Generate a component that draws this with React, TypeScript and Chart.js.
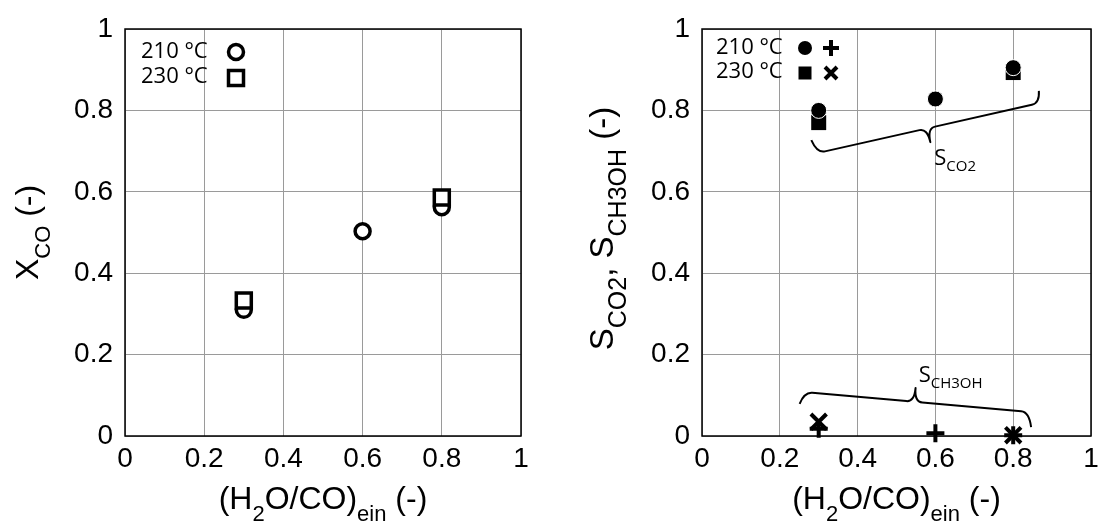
import React, { useEffect, useRef } from 'react';
import { Chart, registerables } from 'chart.js';
Chart.register(...registerables);

// ---------- data ----------
const xTickValues = [0, 0.2, 0.4, 0.6, 0.8, 1];
const tickLabels = ['0', '0.2', '0.4', '0.6', '0.8', '1'];
const legendLabels = ['210 °C', '230 °C'];

// Left panel: X_CO
const xco210X = [0.3, 0.6, 0.8];
const xco210Y = [0.31, 0.503, 0.562];
const xco230X = [0.3, 0.8];
const xco230Y = [0.333, 0.586];

// Right panel: S_CO2
const sco2_210X = [0.3, 0.6, 0.8];
const sco2_210Y = [0.8, 0.828, 0.905];
const sco2_230X = [0.3, 0.8];
const sco2_230Y = [0.77, 0.893];
// Right panel: S_CH3OH
const sch_210X = [0.3, 0.6, 0.8];
const sch_210Y = [0.018, 0.007, 0.002];
const sch_230X = [0.3, 0.8];
const sch_230Y = [0.035, 0.002];

// Braces (data coords): tipL, cornerL, cusp, cornerR, tipR
const braceCO2X = [0.281, 0.296, 0.587, 0.868, 0.866];
const braceCO2Y = [0.727, 0.695, 0.722, 0.818, 0.848];
const braceCH3X = [0.251, 0.263, 0.549, 0.841, 0.846];
const braceCH3Y = [0.079, 0.108, 0.118, 0.059, 0.022];
const labelCO2Pos = [0.597, 0.685];
const labelCH3Pos = [0.557, 0.152];

// ---------- styling ----------
const AX_FONT = '"Liberation Sans", Arial, sans-serif';
const LG_FONT = '"Open Sans", sans-serif';
const TICK_SIZE = 28;
const TITLE_M = 32;
const TITLE_S = 22;
const TITLE_DROP = 12;
const CW = 553;
const CH = 524;

const zip = (xs: number[], ys: number[]) => xs.map((x, i) => ({ x, y: ys[i] }));

type Part = [string, boolean];

function drawRich(ctx: CanvasRenderingContext2D, parts: Part[], cx: number, cy: number, rot: number, M: number, s: number, drop: number, family: string, align: 'center' | 'left' = 'center') {
  ctx.save();
  ctx.translate(cx, cy);
  ctx.rotate(rot);
  ctx.fillStyle = '#000';
  ctx.textBaseline = 'alphabetic';
  ctx.textAlign = 'left';
  let total = 0;
  const widths = parts.map(([t, sub]) => {
    ctx.font = `${sub ? s : M}px ${family}`;
    const w = ctx.measureText(t).width;
    total += w;
    return w;
  });
  let x = align === 'center' ? -total / 2 : 0;
  const base = M * 0.36;
  parts.forEach(([t, sub], i) => {
    ctx.font = `${sub ? s : M}px ${family}`;
    ctx.fillText(t, x, sub ? base + drop : base);
    x += widths[i];
  });
  ctx.restore();
}

function drawMarker(ctx: CanvasRenderingContext2D, kind: string, x: number, y: number) {
  ctx.save();
  ctx.strokeStyle = '#000';
  ctx.fillStyle = '#000';
  if (kind === 'openCircle') {
    ctx.lineWidth = 3.5;
    ctx.fillStyle = '#fff';
    ctx.beginPath();
    ctx.arc(x, y, 7.5, 0, Math.PI * 2);
    ctx.fill();
    ctx.stroke();
  } else if (kind === 'openSquare') {
    ctx.lineWidth = 3.5;
    ctx.fillStyle = '#fff';
    ctx.fillRect(x - 7.5, y - 7.5, 15, 15);
    ctx.strokeRect(x - 7.5, y - 7.5, 15, 15);
  } else if (kind === 'dot') {
    ctx.beginPath();
    ctx.arc(x, y, 7, 0, Math.PI * 2);
    ctx.fill();
  } else if (kind === 'square') {
    ctx.fillRect(x - 6.5, y - 6.5, 13, 13);
  } else if (kind === 'plus') {
    ctx.lineWidth = 4;
    ctx.beginPath();
    ctx.moveTo(x - 8, y); ctx.lineTo(x + 8, y);
    ctx.moveTo(x, y - 8); ctx.lineTo(x, y + 8);
    ctx.stroke();
  } else if (kind === 'cross') {
    ctx.lineWidth = 4;
    ctx.beginPath();
    ctx.moveTo(x - 6, y - 6); ctx.lineTo(x + 6, y + 6);
    ctx.moveTo(x + 6, y - 6); ctx.lineTo(x - 6, y + 6);
    ctx.stroke();
  }
  ctx.restore();
}

function drawBrace(ctx: CanvasRenderingContext2D, pts: number[][]) {
  const [tipL, cL, cusp, cR, tipR] = pts;
  const dx = cR[0] - cL[0], dy = cR[1] - cL[1];
  const len = Math.hypot(dx, dy);
  const ux = dx / len, uy = dy / len;
  const t = (cusp[0] - cL[0]) * ux + (cusp[1] - cL[1]) * uy;
  const mid = [cL[0] + ux * t, cL[1] + uy * t];
  const r = 8;
  ctx.save();
  ctx.strokeStyle = '#000';
  ctx.lineWidth = 2;
  ctx.lineJoin = 'round';
  ctx.beginPath();
  ctx.moveTo(tipL[0], tipL[1]);
  ctx.quadraticCurveTo(cL[0], cL[1], cL[0] + ux * r, cL[1] + uy * r);
  ctx.lineTo(mid[0] - ux * r, mid[1] - uy * r);
  ctx.quadraticCurveTo(mid[0], mid[1], cusp[0], cusp[1]);
  ctx.quadraticCurveTo(mid[0], mid[1], mid[0] + ux * r, mid[1] + uy * r);
  ctx.lineTo(cR[0] - ux * r, cR[1] - uy * r);
  ctx.quadraticCurveTo(cR[0], cR[1], tipR[0], tipR[1]);
  ctx.stroke();
  ctx.restore();
}

function makeScales(yWidth: number) {
  const common = {
    type: 'linear' as const,
    min: 0,
    max: 1,
    afterBuildTicks: (s: any) => { s.ticks = xTickValues.map(v => ({ value: v })); },
    grid: { color: '#9a9a9a', lineWidth: 1, drawTicks: false },
    border: { display: false },
  };
  const cb = (v: any) => {
    const i = xTickValues.findIndex(t => Math.abs(t - Number(v)) < 1e-6);
    return i >= 0 ? tickLabels[i] : '';
  };
  return {
    x: {
      ...common,
      ticks: { callback: cb, font: { family: AX_FONT, size: TICK_SIZE }, color: '#000', padding: 6, maxRotation: 0, autoSkip: false },
      afterFit: (s: any) => { s.height = CH - 436; },
    },
    y: {
      ...common,
      ticks: { callback: cb, font: { family: AX_FONT, size: TICK_SIZE }, color: '#000', padding: 12, autoSkip: false },
      afterFit: (s: any) => { s.width = yWidth; },
    },
  };
}

const frame = {
  id: 'frame',
  afterDraw(chart: any) {
    const { ctx, chartArea: a } = chart;
    ctx.save();
    ctx.strokeStyle = '#000';
    ctx.lineWidth = 1.5;
    ctx.strokeRect(a.left, a.top, a.right - a.left, a.bottom - a.top);
    ctx.restore();
  },
};

function leftConfig(): any {
  return {
    type: 'scatter',
    data: {
      datasets: [
        {
          label: legendLabels[1], data: zip(xco230X, xco230Y), order: 0,
          pointStyle: 'rect', pointRadius: 10.6, pointBorderWidth: 3.5,
          pointBorderColor: '#000', pointBackgroundColor: '#fff', clip: false,
        },
        {
          label: legendLabels[0], data: zip(xco210X, xco210Y), order: 1,
          pointStyle: 'circle', pointRadius: 7.5, pointBorderWidth: 3.5,
          pointBorderColor: '#000', pointBackgroundColor: '#fff', clip: false,
        },
      ],
    },
    options: {
      animation: false,
      responsive: false,
      events: [],
      layout: { padding: { top: 29, right: CW - 521, left: 0, bottom: 0 } },
      plugins: { legend: { display: false }, tooltip: { enabled: false } },
      scales: makeScales(125),
    },
    plugins: [frame, {
      id: 'deco',
      afterDraw(chart: any) {
        const { ctx, chartArea: a } = chart;
        ctx.save();
        ctx.fillStyle = '#000';
        ctx.font = `22px ${LG_FONT}`;
        ctx.textBaseline = 'middle';
        ctx.fillText(legendLabels[0], 141, 52);
        ctx.fillText(legendLabels[1], 141, 77);
        ctx.restore();
        drawMarker(ctx, 'openCircle', 236, 52);
        drawMarker(ctx, 'openSquare', 236, 78);
        const cx = (a.left + a.right) / 2;
        const cy = (a.top + a.bottom) / 2;
        drawRich(ctx, [['(H', false], ['2', true], ['O/CO)', false], ['ein', true], [' (-)', false]], cx, 497, 0, TITLE_M, TITLE_S, TITLE_DROP, AX_FONT);
        drawRich(ctx, [['X', false], ['CO', true], [' (-)', false]], 26, cy, -Math.PI / 2, TITLE_M, TITLE_S, TITLE_DROP, AX_FONT);
      },
    }],
  };
}

function rightConfig(): any {
  return {
    type: 'scatter',
    data: {
      datasets: [
        {
          label: legendLabels[0] + ' S_CO2', data: zip(sco2_210X, sco2_210Y), order: 0,
          pointStyle: 'circle', pointRadius: 8, pointBorderWidth: 1,
          pointBorderColor: '#fff', pointBackgroundColor: '#000', clip: false,
        },
        {
          label: legendLabels[1] + ' S_CO2', data: zip(sco2_230X, sco2_230Y), order: 1,
          pointStyle: 'rect', pointRadius: 10.6, pointBorderWidth: 0,
          pointBorderColor: '#000', pointBackgroundColor: '#000', clip: false,
        },
        {
          label: legendLabels[0] + ' S_CH3OH', data: zip(sch_210X, sch_210Y), order: 2,
          pointStyle: 'cross', pointRadius: 9, pointBorderWidth: 4,
          pointBorderColor: '#000', pointBackgroundColor: '#000', clip: false,
        },
        {
          label: legendLabels[1] + ' S_CH3OH', data: zip(sch_230X, sch_230Y), order: 3,
          pointStyle: 'crossRot', pointRadius: 11, pointBorderWidth: 4,
          pointBorderColor: '#000', pointBackgroundColor: '#000', clip: false,
        },
      ],
    },
    options: {
      animation: false,
      responsive: false,
      events: [],
      layout: { padding: { top: 29, right: CW - (1097 - 553), left: 0, bottom: 0 } },
      plugins: { legend: { display: false }, tooltip: { enabled: false } },
      scales: makeScales(702 - 553),
    },
    plugins: [frame, {
      id: 'deco',
      afterDraw(chart: any) {
        const { ctx, chartArea: a } = chart;
        const xs = chart.scales.x, ys = chart.scales.y;
        const px = (v: number) => xs.getPixelForValue(v);
        const py = (v: number) => ys.getPixelForValue(v);
        ctx.save();
        ctx.fillStyle = '#000';
        ctx.font = `22px ${LG_FONT}`;
        ctx.textBaseline = 'middle';
        ctx.fillText(legendLabels[0], 163, 48);
        ctx.fillText(legendLabels[1], 163, 72);
        ctx.restore();
        drawMarker(ctx, 'dot', 252, 48);
        drawMarker(ctx, 'plus', 278, 48);
        drawMarker(ctx, 'square', 252, 73);
        drawMarker(ctx, 'cross', 278, 73);
        drawBrace(ctx, braceCO2X.map((x, i) => [px(x), py(braceCO2Y[i])]));
        drawBrace(ctx, braceCH3X.map((x, i) => [px(x), py(braceCH3Y[i])]));
        drawRich(ctx, [['S', false], ['CO2', true]], px(labelCO2Pos[0]), py(labelCO2Pos[1]), 0, 22, 15, 6, LG_FONT, 'left');
        drawRich(ctx, [['S', false], ['CH3OH', true]], px(labelCH3Pos[0]), py(labelCH3Pos[1]), 0, 22, 15, 6, LG_FONT, 'left');
        const cx = (a.left + a.right) / 2;
        const cy = (a.top + a.bottom) / 2;
        drawRich(ctx, [['(H', false], ['2', true], ['O/CO)', false], ['ein', true], [' (-)', false]], cx, 497, 0, TITLE_M, TITLE_S, TITLE_DROP, AX_FONT);
        drawRich(ctx, [['S', false], ['CO2', true], [', S', false], ['CH3OH', true], [' (-)', false]], 48, cy - 4, -Math.PI / 2, 33, 25, 13, AX_FONT);
      },
    }],
  };
}

function Panel({ left, config }: { left: number; config: () => any }) {
  const ref = useRef<HTMLCanvasElement>(null);
  useEffect(() => {
    if (!ref.current) return;
    const chart = new Chart(ref.current, config());
    return () => chart.destroy();
  }, []);
  return (
    <div style={{ position: 'absolute', left, top: 0, width: CW, height: CH }}>
      <canvas ref={ref} width={CW} height={CH} style={{ width: CW, height: CH, display: 'block' }} />
    </div>
  );
}

export default function App() {
  return (
    <div style={{ position: 'fixed', left: 0, top: 0, width: 1106, height: 524, background: '#fff', overflow: 'hidden' }}>
      <Panel left={0} config={leftConfig} />
      <Panel left={553} config={rightConfig} />
    </div>
  );
}
